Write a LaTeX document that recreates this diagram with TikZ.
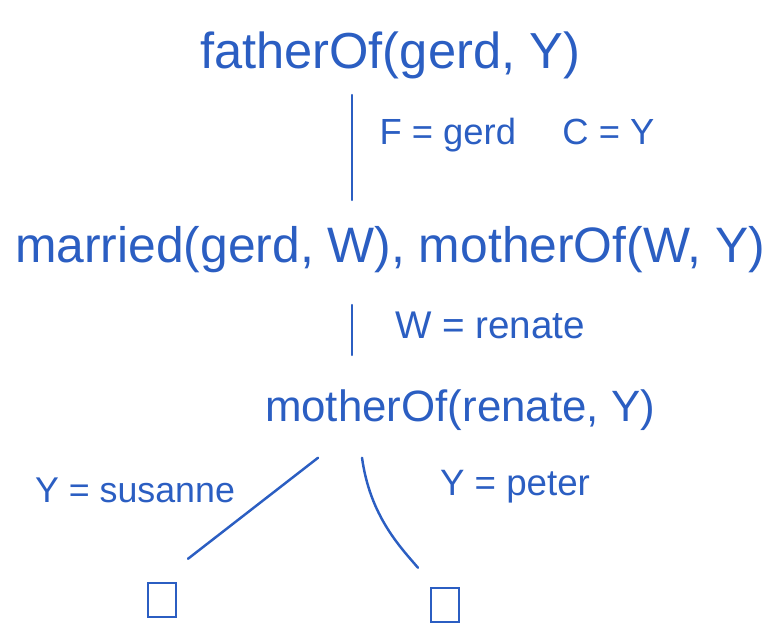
\documentclass[tikz,border=0pt]{standalone}
\usepackage{fontspec}
\setmainfont{Liberation Sans}
\definecolor{ink}{HTML}{2B5EC2}
\newcommand{\fitw}[2]{\resizebox{#1}{!}{#2}}
\tikzset{
  goal/.style={text=ink, inner sep=0pt, font=\fontsize{28}{32}\selectfont},
  bind/.style={text=ink, inner sep=0pt, font=\fontsize{28}{32}\selectfont},
  leaf/.style={draw=ink, line width=1.4pt, minimum width=0.56cm, minimum height=0.68cm, inner sep=0pt},
  edge/.style={draw=ink, line width=1.4pt, line cap=round}
}
\begin{document}
\begin{tikzpicture}[x=0.02cm, y=-0.02cm]
\useasboundingbox (0,0) rectangle (767,631);

% Ziele
\node[goal] (fa) at (390,55) {\fitw{7.6cm}{fatherOf(gerd, Y)}};
\node[goal] (mm) at (390,250) {\fitw{15cm}{married(gerd, W), motherOf(W, Y)}};
\node[goal] (mo) at (460,410) {\fitw{7.8cm}{motherOf(renate, Y)}};

% Bindungen
\node[bind] (b1) at (517,135) {\fitw{5.5cm}{F = gerd \quad C = Y}};
\node[bind] (b2) at (490,325) {\fitw{3.8cm}{W = renate}};
\node[bind] (b3) at (135,490) {\fitw{4cm}{Y = susanne}};
\node[bind] (b4) at (515,487) {\fitw{3cm}{Y = peter}};

% Blaetter
\node[leaf] (l1) at (162,600) {};
\node[leaf] (l2) at (445,605) {};

% Kanten
\coordinate (s1) at (352,95);
\coordinate (e1) at (352,200);
\coordinate (s2) at (352,305);
\coordinate (e2) at (352,355);
\draw[edge] (s1) -- (e1);
\draw[edge] (s2) -- (e2);

\draw[edge] ([xshift=-2.84cm, yshift=-0.54cm]mo.south) -- ([xshift=0.52cm,yshift=0.46cm]l1.north);
\draw[edge] ([xshift=-1.96cm, yshift=-0.54cm]mo.south) .. controls ([xshift=-1.8cm, yshift=-1.7cm]mo.south) and ([xshift=-0.9cm,yshift=0.8cm]l2.north) .. ([xshift=-0.54cm,yshift=0.38cm]l2.north);
\end{tikzpicture}
\end{document}
